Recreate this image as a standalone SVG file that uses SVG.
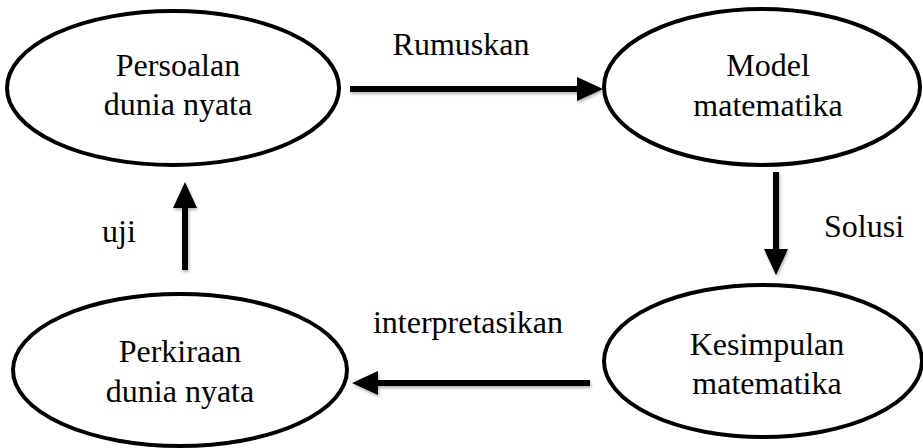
<svg xmlns="http://www.w3.org/2000/svg" width="923" height="448" viewBox="0 0 923 448">
<style>
.node ellipse{fill:#fff;stroke:#000;stroke-width:4}
text{font-family:'Liberation Serif','Times New Roman','DejaVu Serif',serif;font-size:32px;fill:#000}
.c{text-anchor:middle}
.edge{stroke:#000;stroke-width:6;fill:none;marker-end:url(#ah)}
</style>
<defs>
<marker id="ah" markerUnits="userSpaceOnUse" markerWidth="26" markerHeight="26" refX="2" refY="13" orient="auto" viewBox="0 0 26 26">
<path d="M0,1 L26,13 L0,25 Z" fill="#000"/>
</marker>
<filter id="sh" x="-10%" y="-50%" width="120%" height="200%">
<feDropShadow dx="1" dy="2" stdDeviation="1.5" flood-color="#000" flood-opacity="0.3"/>
</filter>
</defs>
<g id="connectors" filter="url(#sh)">
<line class="edge" x1="350" y1="89" x2="579" y2="89"/>
<line class="edge" x1="776" y1="172" x2="776" y2="251"/>
<line class="edge" x1="590" y1="383" x2="376" y2="383"/>
<line class="edge" x1="185" y1="270" x2="185" y2="206"/>
</g>
<g id="n1" class="node">
<ellipse cx="173" cy="88" rx="166" ry="77"/>
<text class="c" x="178" y="76" font-family="Liberation Serif, serif">Persoalan</text>
<text class="c" x="178" y="115" font-family="Liberation Serif, serif">dunia nyata</text>
</g>
<g id="n2" class="node">
<ellipse cx="762" cy="87" rx="158" ry="78"/>
<text class="c" x="768" y="76">Model</text>
<text class="c" x="768" y="116">matematika</text>
</g>
<g id="n3" class="node">
<ellipse cx="763" cy="361" rx="159" ry="76"/>
<text class="c" x="767" y="355">Kesimpulan</text>
<text class="c" x="767" y="394">matematika</text>
</g>
<g id="n4" class="node">
<ellipse cx="180" cy="370" rx="167" ry="76"/>
<text class="c" x="180" y="362">Perkiraan</text>
<text class="c" x="180" y="402">dunia nyata</text>
</g>
<g id="labels">
<text class="c" x="461" y="55">Rumuskan</text>
<text x="824" y="237">Solusi</text>
<text class="c" x="468" y="333">interpretasikan</text>
<text x="102" y="242">uji</text>
</g>
</svg>
